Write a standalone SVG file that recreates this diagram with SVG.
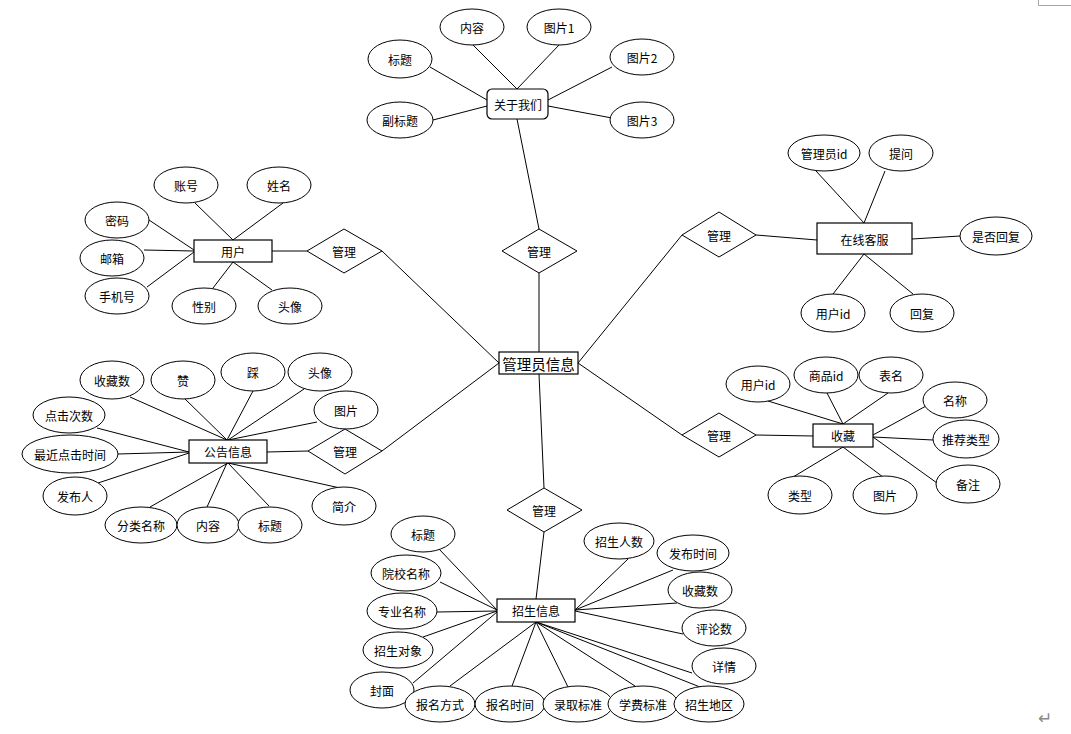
<svg xmlns="http://www.w3.org/2000/svg" width="1071" height="734" viewBox="0 0 1071 734">
<style>
.e{fill:#fff;stroke:#000;stroke-width:1}
.b{fill:#fff;stroke:#000;stroke-width:1.2}
.d{fill:#fff;stroke:#000;stroke-width:1}
.c line{stroke:#000;stroke-width:1}
text{font-family:"Microsoft YaHei","Noto Sans CJK SC","Noto Sans",sans-serif;font-size:12px;fill:#000;text-anchor:middle;dominant-baseline:central}
.big{font-size:14.5px}
</style>
<rect width="1071" height="734" fill="#fff"/>
<path d="M1038.5 0V5.5H1071" fill="none" stroke="#a6a6a6" stroke-width="1"/>
<text x="1045" y="718" style="font-size:17px;fill:#888;font-family:'DejaVu Sans',sans-serif">↵</text>
<g class="c" id="connectors">
<line x1="473" y1="45" x2="517" y2="89"/>
<line x1="559" y1="45" x2="517" y2="89"/>
<line x1="430" y1="67" x2="487" y2="100"/>
<line x1="433" y1="120" x2="487" y2="106"/>
<line x1="612" y1="67" x2="548" y2="100"/>
<line x1="612" y1="118" x2="548" y2="106"/>
<line x1="517" y1="119" x2="539" y2="229"/>
<line x1="539" y1="273" x2="539" y2="352"/>
<line x1="539" y1="374" x2="544" y2="488"/>
<line x1="544" y1="532" x2="536" y2="599"/>
<line x1="382" y1="251" x2="499" y2="363"/>
<line x1="382" y1="451" x2="499" y2="363"/>
<line x1="578" y1="363" x2="682" y2="235"/>
<line x1="578" y1="363" x2="682" y2="435"/>
<line x1="195" y1="203" x2="233" y2="240"/>
<line x1="283" y1="203" x2="233" y2="240"/>
<line x1="149" y1="220" x2="194" y2="250"/>
<line x1="144" y1="250" x2="194" y2="251"/>
<line x1="147" y1="287" x2="194" y2="252"/>
<line x1="213" y1="288" x2="233" y2="262"/>
<line x1="272" y1="290" x2="233" y2="262"/>
<line x1="272" y1="251" x2="307" y2="251"/>
<line x1="756" y1="235" x2="817" y2="240"/>
<line x1="816" y1="171" x2="864" y2="223"/>
<line x1="885" y1="171" x2="864" y2="223"/>
<line x1="960" y1="236" x2="912" y2="239"/>
<line x1="833" y1="294" x2="864" y2="254"/>
<line x1="913" y1="294" x2="864" y2="254"/>
<line x1="130" y1="397" x2="227" y2="440"/>
<line x1="184" y1="398" x2="227" y2="440"/>
<line x1="253" y1="391" x2="227" y2="440"/>
<line x1="304" y1="389" x2="228" y2="440"/>
<line x1="317" y1="422" x2="228" y2="440"/>
<line x1="97" y1="428" x2="189" y2="452"/>
<line x1="118" y1="454" x2="189" y2="452"/>
<line x1="98" y1="483" x2="189" y2="453"/>
<line x1="267" y1="452" x2="308" y2="451"/>
<line x1="228" y1="463" x2="340" y2="488"/>
<line x1="150" y1="507" x2="228" y2="463"/>
<line x1="207" y1="507" x2="227" y2="463"/>
<line x1="269" y1="506" x2="228" y2="463"/>
<line x1="756" y1="435" x2="813" y2="436"/>
<line x1="768" y1="401" x2="843" y2="424"/>
<line x1="827" y1="393" x2="843" y2="424"/>
<line x1="888" y1="393" x2="843" y2="424"/>
<line x1="926" y1="406" x2="873" y2="435"/>
<line x1="933" y1="440" x2="873" y2="437"/>
<line x1="937" y1="483" x2="873" y2="437"/>
<line x1="793" y1="477" x2="843" y2="447"/>
<line x1="883" y1="477" x2="843" y2="447"/>
<line x1="439" y1="549" x2="497" y2="610"/>
<line x1="440" y1="582" x2="497" y2="610"/>
<line x1="437" y1="612" x2="497" y2="611"/>
<line x1="423" y1="637" x2="497" y2="611"/>
<line x1="413" y1="683" x2="497" y2="612"/>
<line x1="628" y1="559" x2="575" y2="610"/>
<line x1="673" y1="570" x2="575" y2="610"/>
<line x1="677" y1="603" x2="575" y2="610"/>
<line x1="683" y1="634" x2="575" y2="611"/>
<line x1="450" y1="686" x2="536" y2="622"/>
<line x1="512" y1="686" x2="536" y2="622"/>
<line x1="568" y1="687" x2="536" y2="622"/>
<line x1="635" y1="686" x2="536" y2="622"/>
<line x1="692" y1="673" x2="536" y2="622"/>
<line x1="700" y1="687" x2="536" y2="622"/>
</g>
<!-- 关于我们 -->
<g id="about"><rect class="b" x="487" y="89" width="61" height="30" rx="5"/><text x="518" y="104">关于我们</text></g>
<g id="about-content"><ellipse class="e" cx="472" cy="27" rx="32" ry="18"/><text x="472" y="27">内容</text></g>
<g id="about-pic1"><ellipse class="e" cx="559" cy="27" rx="32" ry="18"/><text x="559" y="27">图片1</text></g>
<g id="about-title"><ellipse class="e" cx="400" cy="59" rx="32" ry="19"/><text x="400" y="59">标题</text></g>
<g id="about-pic2"><ellipse class="e" cx="642" cy="57" rx="32" ry="18"/><text x="642" y="57">图片2</text></g>
<g id="about-subtitle"><ellipse class="e" cx="400" cy="120" rx="33" ry="18"/><text x="400" y="120">副标题</text></g>
<g id="about-pic3"><ellipse class="e" cx="642" cy="120" rx="32" ry="18"/><text x="642" y="120">图片3</text></g>
<g id="rel-about"><polygon class="d" points="502,251 539,229 577,251 539,273"/><text x="539" y="251">管理</text></g>
<!-- 管理员信息 -->
<g id="admin"><rect class="b" x="499" y="352" width="79" height="22"/><text class="big" x="538.5" y="363">管理员信息</text></g>
<!-- 用户 -->
<g id="user"><rect class="b" x="194" y="240" width="78" height="22"/><text x="233" y="251">用户</text></g>
<g id="user-account"><ellipse class="e" cx="186" cy="185" rx="32" ry="18"/><text x="186" y="185">账号</text></g>
<g id="user-name"><ellipse class="e" cx="279" cy="185" rx="32" ry="18"/><text x="279" y="185">姓名</text></g>
<g id="user-pwd"><ellipse class="e" cx="117" cy="220" rx="32" ry="18"/><text x="117" y="220">密码</text></g>
<g id="user-mail"><ellipse class="e" cx="112" cy="258" rx="32" ry="18"/><text x="112" y="258">邮箱</text></g>
<g id="user-phone"><ellipse class="e" cx="117" cy="296" rx="32" ry="18"/><text x="117" y="296">手机号</text></g>
<g id="user-sex"><ellipse class="e" cx="204" cy="306" rx="32" ry="18"/><text x="204" y="306">性别</text></g>
<g id="user-avatar"><ellipse class="e" cx="290" cy="306" rx="32" ry="18"/><text x="290" y="306">头像</text></g>
<g id="rel-user"><polygon class="d" points="307,251 344,229 382,251 344,273"/><text x="344" y="251">管理</text></g>
<!-- 在线客服 -->
<g id="service"><rect class="b" x="817" y="223" width="95" height="31"/><text x="864.5" y="239">在线客服</text></g>
<g id="service-adminid"><ellipse class="e" cx="824" cy="153" rx="36" ry="18"/><text x="824" y="153">管理员id</text></g>
<g id="service-question"><ellipse class="e" cx="901" cy="153" rx="32" ry="18"/><text x="901" y="153">提问</text></g>
<g id="service-replied"><ellipse class="e" cx="996" cy="236" rx="36" ry="19"/><text x="996" y="236">是否回复</text></g>
<g id="service-userid"><ellipse class="e" cx="833" cy="313" rx="32" ry="19"/><text x="833" y="313">用户id</text></g>
<g id="service-reply"><ellipse class="e" cx="922" cy="313" rx="32" ry="19"/><text x="922" y="313">回复</text></g>
<g id="rel-service"><polygon class="d" points="682,235 719,212 756,235 719,257"/><text x="719" y="235">管理</text></g>
<!-- 公告信息 -->
<g id="notice"><rect class="b" x="189" y="440" width="78" height="23"/><text x="228" y="451.5">公告信息</text></g>
<g id="notice-favs"><ellipse class="e" cx="112" cy="380" rx="32" ry="19"/><text x="112" y="380">收藏数</text></g>
<g id="notice-like"><ellipse class="e" cx="183" cy="380" rx="32" ry="19"/><text x="183" y="380">赞</text></g>
<g id="notice-dislike"><ellipse class="e" cx="253" cy="372" rx="32" ry="19"/><text x="253" y="372">踩</text></g>
<g id="notice-avatar"><ellipse class="e" cx="320" cy="372" rx="32" ry="19"/><text x="320" y="372">头像</text></g>
<g id="notice-pic"><ellipse class="e" cx="346" cy="410" rx="32" ry="19"/><text x="346" y="410">图片</text></g>
<g id="notice-clicks"><ellipse class="e" cx="69" cy="415" rx="36" ry="18"/><text x="69" y="415">点击次数</text></g>
<g id="notice-lastclick"><ellipse class="e" cx="70" cy="454" rx="48" ry="19"/><text x="70" y="454">最近点击时间</text></g>
<g id="notice-publisher"><ellipse class="e" cx="75" cy="496" rx="32" ry="19"/><text x="75" y="496">发布人</text></g>
<g id="notice-intro"><ellipse class="e" cx="344" cy="506" rx="32" ry="19"/><text x="344" y="506">简介</text></g>
<g id="notice-category"><ellipse class="e" cx="141" cy="525" rx="36" ry="18"/><text x="141" y="525">分类名称</text></g>
<g id="notice-content"><ellipse class="e" cx="208" cy="525" rx="31" ry="18"/><text x="208" y="525">内容</text></g>
<g id="notice-title"><ellipse class="e" cx="270" cy="525" rx="32" ry="18"/><text x="270" y="525">标题</text></g>
<g id="rel-notice"><polygon class="d" points="308,451 345,429 382,451 345,474"/><text x="345" y="451">管理</text></g>
<!-- 收藏 -->
<g id="fav"><rect class="b" x="813" y="424" width="60" height="23"/><text x="843" y="435.5">收藏</text></g>
<g id="fav-userid"><ellipse class="e" cx="758" cy="384" rx="32" ry="18"/><text x="758" y="384">用户id</text></g>
<g id="fav-goodsid"><ellipse class="e" cx="826" cy="375" rx="32" ry="18"/><text x="826" y="375">商品id</text></g>
<g id="fav-table"><ellipse class="e" cx="891" cy="375" rx="32" ry="18"/><text x="891" y="375">表名</text></g>
<g id="fav-name"><ellipse class="e" cx="955" cy="400" rx="32" ry="18"/><text x="955" y="400">名称</text></g>
<g id="fav-rectype"><ellipse class="e" cx="966" cy="439" rx="33" ry="19"/><text x="966" y="439">推荐类型</text></g>
<g id="fav-note"><ellipse class="e" cx="968" cy="484" rx="32" ry="19"/><text x="968" y="484">备注</text></g>
<g id="fav-type"><ellipse class="e" cx="800" cy="495" rx="32" ry="19"/><text x="800" y="495">类型</text></g>
<g id="fav-pic"><ellipse class="e" cx="885" cy="495" rx="32" ry="19"/><text x="885" y="495">图片</text></g>
<g id="rel-fav"><polygon class="d" points="682,435 719,413 756,435 719,457"/><text x="719" y="435">管理</text></g>
<!-- 招生信息 -->
<g id="rel-enroll"><polygon class="d" points="507,510 544,488 582,510 544,532"/><text x="544" y="510">管理</text></g>
<g id="enroll"><rect class="b" x="497" y="599" width="78" height="23"/><text x="536" y="610.5">招生信息</text></g>
<g id="enroll-title"><ellipse class="e" cx="423" cy="534" rx="32" ry="18"/><text x="423" y="534">标题</text></g>
<g id="enroll-school"><ellipse class="e" cx="406" cy="573" rx="35" ry="18"/><text x="406" y="573">院校名称</text></g>
<g id="enroll-major"><ellipse class="e" cx="402" cy="611" rx="35" ry="18"/><text x="402" y="611">专业名称</text></g>
<g id="enroll-target"><ellipse class="e" cx="398" cy="650" rx="35" ry="18"/><text x="398" y="650">招生对象</text></g>
<g id="enroll-cover"><ellipse class="e" cx="382" cy="690" rx="32" ry="18"/><text x="382" y="690">封面</text></g>
<g id="enroll-method"><ellipse class="e" cx="440" cy="704" rx="35" ry="18"/><text x="440" y="704">报名方式</text></g>
<g id="enroll-time"><ellipse class="e" cx="510" cy="704" rx="35" ry="18"/><text x="510" y="704">报名时间</text></g>
<g id="enroll-admit"><ellipse class="e" cx="578" cy="704" rx="35" ry="18"/><text x="578" y="704">录取标准</text></g>
<g id="enroll-fee"><ellipse class="e" cx="643" cy="704" rx="35" ry="18"/><text x="643" y="704">学费标准</text></g>
<g id="enroll-region"><ellipse class="e" cx="709" cy="704" rx="35" ry="18"/><text x="709" y="704">招生地区</text></g>
<g id="enroll-count"><ellipse class="e" cx="619" cy="541" rx="35" ry="18"/><text x="619" y="541">招生人数</text></g>
<g id="enroll-pubtime"><ellipse class="e" cx="693" cy="553" rx="36" ry="18"/><text x="693" y="553">发布时间</text></g>
<g id="enroll-favs"><ellipse class="e" cx="700" cy="590" rx="32" ry="18"/><text x="700" y="590">收藏数</text></g>
<g id="enroll-comments"><ellipse class="e" cx="714" cy="628" rx="32" ry="18"/><text x="714" y="628">评论数</text></g>
<g id="enroll-detail"><ellipse class="e" cx="724" cy="666" rx="32" ry="18"/><text x="724" y="666">详情</text></g>
</svg>
